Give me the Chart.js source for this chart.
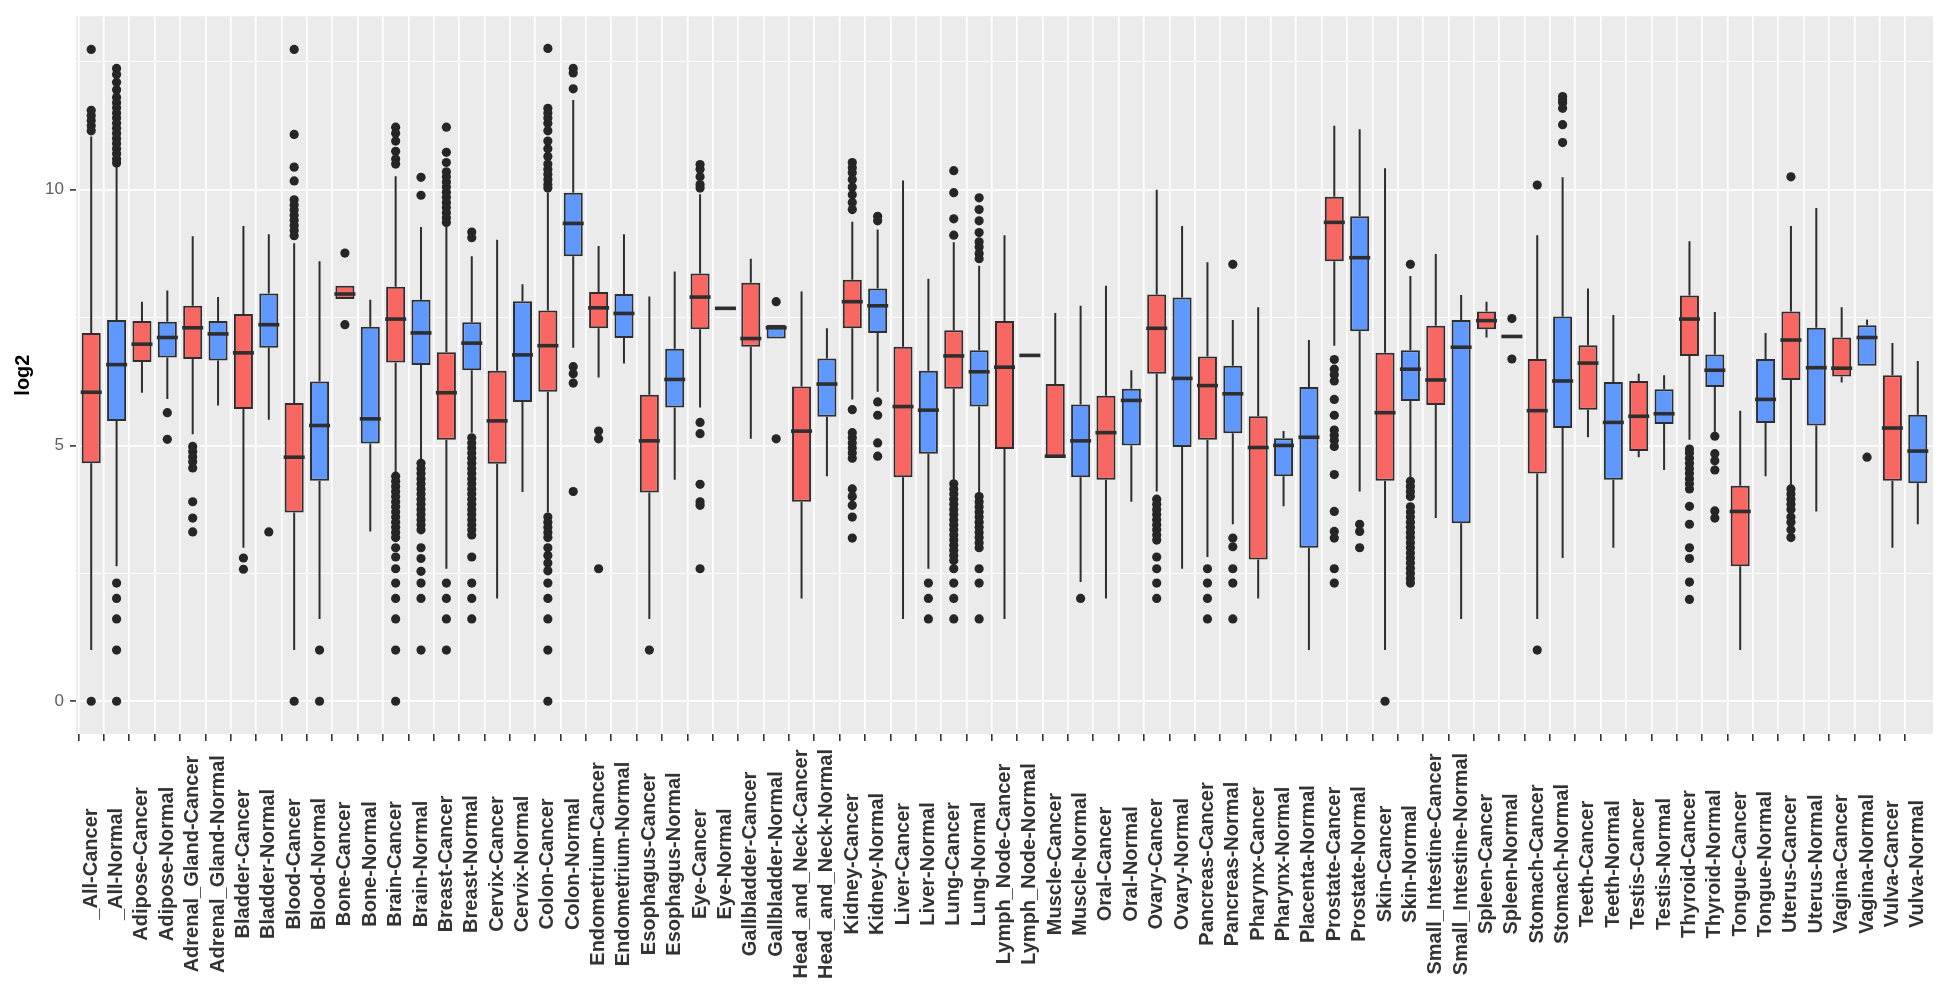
<!DOCTYPE html>
<html>
<head>
<meta charset="utf-8">
<script src="https://cdn.jsdelivr.net/npm/chart.js@4.4.1/dist/chart.umd.min.js"></script>
<style>
  html, body { margin: 0; padding: 0; background: #fff; }
  #wrap { width: 1946px; height: 988px; position: relative; }
</style>
</head>
<body>
<div id="wrap"><canvas id="chart"></canvas></div>
<script>
// groups on the x axis
const labels = [
  '_All-Cancer', '_All-Normal', 'Adipose-Cancer', 'Adipose-Normal', 'Adrenal_Gland-Cancer', 'Adrenal_Gland-Normal',
  'Bladder-Cancer', 'Bladder-Normal', 'Blood-Cancer', 'Blood-Normal', 'Bone-Cancer', 'Bone-Normal',
  'Brain-Cancer', 'Brain-Normal', 'Breast-Cancer', 'Breast-Normal', 'Cervix-Cancer', 'Cervix-Normal',
  'Colon-Cancer', 'Colon-Normal', 'Endometrium-Cancer', 'Endometrium-Normal', 'Esophagus-Cancer', 'Esophagus-Normal',
  'Eye-Cancer', 'Eye-Normal', 'Gallbladder-Cancer', 'Gallbladder-Normal', 'Head_and_Neck-Cancer', 'Head_and_Neck-Normal',
  'Kidney-Cancer', 'Kidney-Normal', 'Liver-Cancer', 'Liver-Normal', 'Lung-Cancer', 'Lung-Normal',
  'Lymph_Node-Cancer', 'Lymph_Node-Normal', 'Muscle-Cancer', 'Muscle-Normal', 'Oral-Cancer', 'Oral-Normal',
  'Ovary-Cancer', 'Ovary-Normal', 'Pancreas-Cancer', 'Pancreas-Normal', 'Pharynx-Cancer', 'Pharynx-Normal',
  'Placenta-Normal', 'Prostate-Cancer', 'Prostate-Normal', 'Skin-Cancer', 'Skin-Normal', 'Small_Intestine-Cancer',
  'Small_Intestine-Normal', 'Spleen-Cancer', 'Spleen-Normal', 'Stomach-Cancer', 'Stomach-Normal', 'Teeth-Cancer',
  'Teeth-Normal', 'Testis-Cancer', 'Testis-Normal', 'Thyroid-Cancer', 'Thyroid-Normal', 'Tongue-Cancer',
  'Tongue-Normal', 'Uterus-Cancer', 'Uterus-Normal', 'Vagina-Cancer', 'Vagina-Normal', 'Vulva-Cancer', 'Vulva-Normal'
];

// box plot stats (log2)
const whiskerLow = [
  1.0, 2.64, 6.03, 5.91, 5.22, 5.78, 3.0, 5.50, 1.0, 1.61, 7.86, 3.32,
  4.47, 4.70, 2.59, 5.25, 2.01, 4.09, 3.69, 6.91, 6.33, 6.60, 1.61, 4.33,
  5.74, 7.68, 5.13, 7.09, 2.01, 4.40, 5.90, 6.05, 1.61, 2.59, 4.33, 4.06,
  1.61, 6.76, 4.78, 2.33, 2.01, 3.90, 4.10, 2.59, 2.82, 3.46, 2.01, 3.81,
  1.0, 6.95, 4.10, 1.0, 4.38, 3.58, 1.61, 7.11, 7.13, 1.61, 2.80, 5.16,
  3.0, 4.77, 4.52, 5.11, 5.22, 1.0, 4.40, 4.21, 3.71, 6.23, 6.56, 3.0, 3.46
];
const q1 = [
  4.65, 5.48, 6.63, 6.72, 6.69, 6.66, 5.71, 6.91, 3.69, 4.31, 7.86, 5.04,
  6.62, 6.57, 5.11, 6.47, 4.64, 5.85, 6.05, 8.70, 7.29, 7.10, 4.08, 5.74,
  7.27, 7.68, 6.93, 7.09, 3.90, 5.56, 7.29, 7.20, 4.38, 4.84, 6.11, 5.76,
  4.93, 6.76, 4.78, 4.38, 4.33, 5.00, 6.40, 4.97, 5.11, 5.24, 2.77, 4.40,
  3.0, 8.60, 7.23, 4.31, 5.87, 5.79, 3.48, 7.27, 7.13, 4.45, 5.34, 5.70,
  4.33, 4.89, 5.42, 6.75, 6.14, 2.64, 5.44, 6.28, 5.39, 6.35, 6.56, 4.31, 4.26
];
const median = [
  6.04, 6.58, 6.98, 7.11, 7.30, 7.18, 6.81, 7.36, 4.77, 5.39, 7.96, 5.52,
  7.47, 7.20, 6.03, 7.00, 5.48, 6.77, 6.95, 9.34, 7.69, 7.58, 5.09, 6.29,
  7.90, 7.68, 7.09, 7.30, 5.28, 6.20, 7.81, 7.73, 5.76, 5.69, 6.75, 6.44,
  6.53, 6.76, 4.79, 5.09, 5.25, 5.88, 7.29, 6.31, 6.17, 6.01, 4.96, 5.00,
  5.16, 9.36, 8.67, 5.64, 6.49, 6.28, 6.92, 7.44, 7.13, 5.68, 6.26, 6.61,
  5.45, 5.57, 5.62, 7.47, 6.47, 3.71, 5.90, 7.06, 6.52, 6.51, 7.11, 5.34, 4.89
];
const q3 = [
  7.20, 7.45, 7.43, 7.42, 7.73, 7.43, 7.57, 7.97, 5.83, 6.25, 8.12, 7.32,
  8.10, 7.85, 6.82, 7.41, 6.46, 7.82, 7.64, 9.94, 8.00, 7.96, 5.99, 6.89,
  8.36, 7.68, 8.18, 7.36, 6.15, 6.70, 8.24, 8.07, 6.93, 6.46, 7.25, 6.86,
  7.43, 6.76, 6.20, 5.80, 5.97, 6.11, 7.95, 7.89, 6.74, 6.56, 5.57, 5.14,
  6.14, 9.86, 9.48, 6.81, 6.86, 7.34, 7.45, 7.62, 7.13, 6.69, 7.52, 6.96,
  6.24, 6.26, 6.10, 7.93, 6.78, 4.21, 6.69, 7.62, 7.30, 7.11, 7.35, 6.37, 5.60
];
const whiskerHigh = [
  11.04, 10.49, 7.81, 8.03, 9.09, 7.90, 9.29, 9.13, 8.95, 8.60, 8.12, 7.85,
  10.26, 9.27, 9.29, 8.70, 9.02, 8.15, 9.94, 11.75, 8.90, 9.13, 7.91, 8.40,
  9.91, 7.68, 8.65, 7.36, 8.01, 7.29, 9.37, 9.22, 10.18, 8.26, 8.97, 8.51,
  9.11, 6.76, 7.59, 7.73, 8.12, 6.47, 10.0, 9.29, 8.58, 7.45, 7.70, 5.28,
  7.06, 11.25, 11.18, 10.42, 8.31, 8.74, 7.94, 7.81, 7.13, 9.11, 10.24, 8.07,
  7.55, 6.40, 6.37, 8.99, 7.61, 5.68, 7.20, 9.29, 9.64, 7.70, 7.46, 7.00, 6.65
];

// outlier points per group
const outliers = [
  [12.74, 11.55, 11.45, 11.35, 11.25, 11.15, 0],
  [12.37, 12.25, 12.1, 11.95, 11.8, 11.7, 11.6, 11.5, 11.4, 11.3, 11.2, 11.1, 11.0, 10.9, 10.8, 10.7, 10.6, 10.52, 2.31, 2.01, 1.61, 1.0, 0],
  [],
  [5.64, 5.12],
  [4.98, 4.88, 4.78, 4.68, 4.56, 3.9, 3.58, 3.31],
  [],
  [2.8, 2.58],
  [3.31],
  [12.74, 11.08, 10.44, 10.17, 9.8, 9.7, 9.6, 9.5, 9.4, 9.3, 9.2, 9.1, 0],
  [1.0, 0],
  [8.76, 7.36],
  [],
  [11.22, 11.1, 10.95, 10.75, 10.6, 10.5, 4.4, 4.3, 4.2, 4.1, 4.0, 3.9, 3.8, 3.7, 3.6, 3.5, 3.4, 3.3, 3.2, 3.0, 2.82, 2.59, 2.31, 2.01, 1.61, 1.0, 0],
  [10.24, 9.89, 4.65, 4.55, 4.45, 4.35, 4.25, 4.15, 4.05, 3.95, 3.85, 3.75, 3.65, 3.55, 3.45, 3.35, 3.0, 2.79, 2.54, 2.31, 2.01, 1.0],
  [11.22, 10.73, 10.53, 10.35, 10.25, 10.15, 10.05, 9.95, 9.85, 9.75, 9.65, 9.55, 9.45, 9.36, 2.31, 2.01, 1.61, 1.0],
  [9.17, 9.06, 5.15, 5.05, 4.95, 4.85, 4.75, 4.65, 4.55, 4.45, 4.35, 4.25, 4.15, 4.05, 3.95, 3.85, 3.75, 3.65, 3.55, 3.45, 3.35, 3.25, 2.82, 2.31, 2.01, 1.61],
  [],
  [],
  [12.76, 11.59, 11.5, 11.4, 11.3, 11.15, 10.95, 10.8, 10.65, 10.5, 10.4, 10.3, 10.2, 10.1, 10.03, 3.6, 3.5, 3.4, 3.3, 3.2, 3.0, 2.85, 2.7, 2.55, 2.31, 2.01, 1.61, 1.0, 0],
  [12.37, 12.28, 11.97, 6.54, 6.4, 6.22, 4.1],
  [5.28, 5.13, 2.59],
  [],
  [1.0],
  [],
  [10.49, 10.4, 10.25, 10.1, 10.03, 5.45, 5.23, 4.24, 3.9, 3.83, 2.59],
  [],
  [],
  [7.81, 5.13],
  [],
  [],
  [10.53, 10.43, 10.33, 10.2, 10.05, 9.9, 9.75, 9.61, 5.7, 5.25, 5.15, 5.05, 4.95, 4.85, 4.75, 4.15, 4.0, 3.83, 3.6, 3.19],
  [9.48, 9.39, 5.85, 5.59, 5.05, 4.79],
  [],
  [2.31, 2.01, 1.61],
  [10.37, 9.94, 9.43, 9.11, 4.25, 4.15, 4.05, 3.95, 3.85, 3.75, 3.65, 3.55, 3.45, 3.35, 3.25, 3.15, 3.05, 2.95, 2.85, 2.75, 2.59, 2.31, 2.01, 1.61],
  [9.84, 9.61, 9.39, 9.16, 8.98, 8.88, 8.75, 8.65, 4.0, 3.9, 3.8, 3.7, 3.6, 3.5, 3.4, 3.3, 3.2, 3.1, 3.0, 2.59, 2.31, 1.61],
  [],
  [],
  [],
  [2.01],
  [],
  [],
  [3.95, 3.85, 3.75, 3.65, 3.55, 3.45, 3.35, 3.25, 3.15, 2.82, 2.59, 2.31, 2.01],
  [],
  [2.59, 2.31, 2.01, 1.61],
  [8.54, 3.19, 3.02, 2.59, 2.31, 1.61],
  [],
  [],
  [],
  [6.68, 6.49, 6.38, 6.26, 5.9, 5.59, 5.3, 5.2, 5.1, 4.98, 4.43, 3.71, 3.32, 3.19, 2.59, 2.31],
  [3.46, 3.32, 3.0],
  [0],
  [8.54, 4.3, 4.2, 4.1, 4.0, 3.8, 3.7, 3.6, 3.5, 3.4, 3.3, 3.2, 3.1, 3.0, 2.9, 2.8, 2.7, 2.6, 2.5, 2.4, 2.31],
  [],
  [],
  [],
  [7.48, 6.69],
  [10.09, 1.0],
  [11.82, 11.75, 11.7, 11.59, 11.27, 10.92],
  [],
  [],
  [],
  [],
  [4.93, 4.85, 4.75, 4.65, 4.55, 4.45, 4.35, 4.25, 4.15, 3.81, 3.46, 3.0, 2.79, 2.33, 1.99],
  [5.18, 4.84, 4.7, 4.52, 3.72, 3.58],
  [],
  [],
  [10.25, 4.15, 4.05, 3.95, 3.85, 3.75, 3.6, 3.5, 3.35, 3.2],
  [],
  [],
  [4.77],
  [],
  []
];

const yTicks = [0, 5, 10];

const RED = '#F96763';
const BLUE = '#5F98FF';
const INK = '#2E2E2E';
const FONT = '"Liberation Sans", Arial, Helvetica, sans-serif';
const CLEAR = 'rgba(0,0,0,0)';

Chart.defaults.font.family = FONT;

const boxData = labels.map((l, i) => ({ x: i, y: [q1[i], q3[i]] }));
const boxColors = labels.map(l => l.endsWith('Cancer') ? RED : BLUE);
const outlierData = [];
outliers.forEach((arr, i) => arr.forEach(v => outlierData.push({ x: i, y: v })));

// helpers for scriptable grid options (tick can be missing)
const isCat = ctx => !!ctx.tick && Number.isInteger(ctx.tick.value);
const isMajor = ctx => !!ctx.tick && yTicks.includes(ctx.tick.value);

const boxPlugin = {
  id: 'boxExtras',
  beforeDraw(chart) {
    const { ctx, chartArea: a } = chart;
    ctx.save();
    ctx.fillStyle = '#EBEBEB';
    ctx.fillRect(a.left, a.top, a.right - a.left, a.bottom - a.top);
    ctx.restore();
  },
  beforeDatasetsDraw(chart) {
    // whiskers
    const { ctx, scales: { x, y } } = chart;
    ctx.save();
    ctx.strokeStyle = INK;
    ctx.lineWidth = 2;
    labels.forEach((l, i) => {
      const px = x.getPixelForValue(i);
      ctx.beginPath();
      ctx.moveTo(px, y.getPixelForValue(q3[i]));
      ctx.lineTo(px, y.getPixelForValue(whiskerHigh[i]));
      ctx.moveTo(px, y.getPixelForValue(q1[i]));
      ctx.lineTo(px, y.getPixelForValue(whiskerLow[i]));
      ctx.stroke();
    });
    ctx.restore();
  },
  afterDatasetDraw(chart, args) {
    if (args.index !== 0) return;
    // median lines
    const { ctx, scales: { x, y } } = chart;
    const bars = args.meta.data;
    ctx.save();
    ctx.strokeStyle = INK;
    ctx.lineWidth = 3.6;
    labels.forEach((l, i) => {
      const px = x.getPixelForValue(i);
      const half = bars[i].width / 2 + 1;
      const py = y.getPixelForValue(median[i]);
      ctx.beginPath();
      ctx.moveTo(px - half, py);
      ctx.lineTo(px + half, py);
      ctx.stroke();
    });
    ctx.restore();
  },
  afterDraw(chart) {
    // centred, rotated category labels
    const { ctx, scales: { x } } = chart;
    ctx.save();
    ctx.fillStyle = '#333333';
    ctx.font = 'bold 20px ' + FONT;
    ctx.textAlign = 'center';
    ctx.textBaseline = 'middle';
    labels.forEach((l, i) => {
      ctx.save();
      ctx.translate(x.getPixelForValue(i), x.top + 130);
      ctx.rotate(-Math.PI / 2);
      ctx.fillText(l, 0, 0);
      ctx.restore();
    });
    ctx.restore();
  }
};

new Chart(document.getElementById('chart'), {
  type: 'bar',
  data: {
    datasets: [
      {
        type: 'bar',
        data: boxData,
        backgroundColor: boxColors,
        borderColor: INK,
        borderWidth: 2,
        borderSkipped: false,
        barPercentage: 0.75,
        categoryPercentage: 1,
        order: 2
      },
      {
        type: 'scatter',
        data: outlierData,
        pointRadius: 4.6,
        pointBackgroundColor: '#262626',
        pointBorderWidth: 0,
        showLine: false,
        order: 1
      }
    ]
  },
  options: {
    responsive: true,
    maintainAspectRatio: false,
    animation: false,
    events: [],
    layout: { padding: { left: 0, right: 13, top: 14, bottom: 0 } },
    plugins: {
      legend: { display: false },
      tooltip: { enabled: false }
    },
    scales: {
      x: {
        type: 'linear',
        min: -0.6,
        max: 72.6,
        offset: false,
        border: { display: false },
        grid: {
          color: ctx => isCat(ctx) ? '#FFFFFF' : CLEAR,
          lineWidth: 1.6,
          tickColor: ctx => isCat(ctx) ? '#333333' : CLEAR,
          tickLength: 7,
          tickWidth: 1.6
        },
        ticks: { display: false, stepSize: 1, autoSkip: false, includeBounds: false },
        afterFit(scale) { scale.height = 254; }
      },
      y: {
        min: -0.64,
        max: 13.39,
        border: { display: false },
        grid: {
          color: '#FFFFFF',
          lineWidth: ctx => isMajor(ctx) ? 1.8 : 0.9,
          tickColor: ctx => isMajor(ctx) ? '#333333' : CLEAR,
          tickLength: 6,
          tickWidth: 1.6
        },
        ticks: {
          stepSize: 2.5,
          includeBounds: false,
          padding: 6,
          color: '#5E5E5E',
          font: { size: 17 },
          callback: v => yTicks.includes(v) ? String(v) : ''
        },
        title: {
          display: true,
          text: 'log2',
          color: '#000000',
          font: { size: 20, weight: 'bold' },
          padding: { top: 11, bottom: 0 }
        },
        afterFit(scale) { scale.width = 76; }
      }
    }
  },
  plugins: [boxPlugin]
});
</script>
</body>
</html>
